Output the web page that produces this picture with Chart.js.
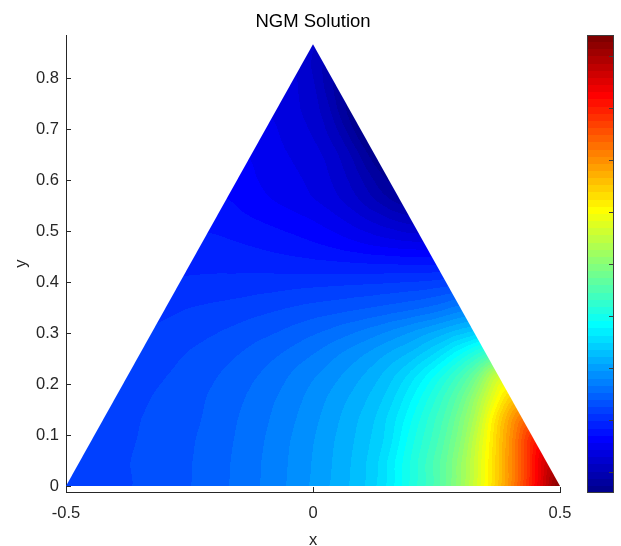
<!DOCTYPE html>
<html lang="en">
<head>
<meta charset="UTF-8">
<title>NGM Solution</title>
<script src="https://cdn.jsdelivr.net/npm/chart.js"></script>
<style>
  body { margin: 0; background: #fff; }
</style>
</head>
<body>
<canvas id="myChart" width="621" height="546"></canvas>

<script>
// equilateral triangle, split into nDiv x nDiv linear elements
const nDiv = 20;
const corners = [[-0.5, 0], [0.5, 0], [0, 0.866]];

// nodal solution, bottom row first; each row runs from the left edge to the right edge
const u = [
  [0.2219, 0.2228, 0.2237, 0.2254, 0.2316, 0.2378, 0.2466, 0.2562, 0.2677, 0.2809, 0.2958, 0.3126, 0.3310, 0.3610, 0.4076, 0.4472, 0.5114, 0.5986, 0.6998, 0.8168, 0.9400],
  [0.2219, 0.2228, 0.2246, 0.2290, 0.2351, 0.2413, 0.2510, 0.2615, 0.2738, 0.2870, 0.3029, 0.3205, 0.3434, 0.3856, 0.4296, 0.4780, 0.5528, 0.6496, 0.7552, 0.8784],
  [0.2210, 0.2228, 0.2254, 0.2307, 0.2369, 0.2457, 0.2545, 0.2659, 0.2791, 0.2932, 0.3099, 0.3275, 0.3522, 0.4006, 0.4410, 0.5000, 0.5950, 0.6998, 0.8168],
  [0.2202, 0.2228, 0.2272, 0.2325, 0.2386, 0.2483, 0.2580, 0.2694, 0.2826, 0.2976, 0.3152, 0.3346, 0.3680, 0.4120, 0.4560, 0.5264, 0.6408, 0.7376],
  [0.2184, 0.2228, 0.2281, 0.2342, 0.2413, 0.2501, 0.2606, 0.2721, 0.2853, 0.3011, 0.3170, 0.3381, 0.3750, 0.4182, 0.4692, 0.5528, 0.6496],
  [0.2175, 0.2219, 0.2272, 0.2342, 0.2413, 0.2501, 0.2598, 0.2730, 0.2844, 0.2994, 0.3161, 0.3398, 0.3742, 0.4164, 0.4692, 0.5704],
  [0.2158, 0.2202, 0.2263, 0.2325, 0.2386, 0.2466, 0.2554, 0.2659, 0.2791, 0.2923, 0.3082, 0.3240, 0.3504, 0.3900, 0.4340],
  [0.2122, 0.2158, 0.2210, 0.2263, 0.2325, 0.2378, 0.2457, 0.2536, 0.2633, 0.2738, 0.2870, 0.3020, 0.3187, 0.3346],
  [0.2087, 0.2122, 0.2149, 0.2175, 0.2219, 0.2263, 0.2307, 0.2342, 0.2386, 0.2439, 0.2501, 0.2589, 0.2756],
  [0.2008, 0.2026, 0.2043, 0.2061, 0.2078, 0.2105, 0.2122, 0.2140, 0.2158, 0.2184, 0.2210, 0.2272],
  [0.1938, 0.1938, 0.1929, 0.1920, 0.1902, 0.1885, 0.1876, 0.1867, 0.1858, 0.1850, 0.1850],
  [0.1876, 0.1858, 0.1823, 0.1779, 0.1735, 0.1674, 0.1594, 0.1515, 0.1462, 0.1436],
  [0.1797, 0.1744, 0.1691, 0.1638, 0.1568, 0.1462, 0.1330, 0.1198, 0.1084],
  [0.1709, 0.1621, 0.1542, 0.1462, 0.1374, 0.1216, 0.0996, 0.0776],
  [0.1630, 0.1533, 0.1462, 0.1392, 0.1234, 0.0996, 0.0688],
  [0.156, 0.146, 0.139, 0.128, 0.104, 0.063],
  [0.148, 0.139, 0.128, 0.104, 0.060],
  [0.141, 0.129, 0.111, 0.064],
  [0.134, 0.120, 0.078],
  [0.128, 0.095],
  [0.117]
];

const xTicks = [-0.5, 0, 0.5];
const yTicks = [0, 0.1, 0.2, 0.3, 0.4, 0.5, 0.6, 0.7, 0.8];
const cLim = [0.06, 0.94];
const cbarTicks = [0.1, 0.2, 0.3, 0.4, 0.5, 0.6, 0.7, 0.8, 0.9];
const nColors = 64;

const axisColor = '#262626';

// matlab jet(64), i = 1..64
function jet(i) {
  const ramp = q => (q >= 1 && q <= 47) ? (q <= 16 ? q / 16 : q <= 31 ? 1 : (48 - q) / 16) : 0;
  return [ramp(i - 24), ramp(i - 8), ramp(i + 8)].map(c => Math.round(c * 255));
}
const cmap = [];
for (let i = 1; i <= nColors; i++) cmap.push(jet(i));

function colorIndex(v) {
  const t = (v - cLim[0]) / (cLim[1] - cLim[0]);
  const i = Math.floor(t * nColors);
  return isFinite(i) ? Math.min(nColors - 1, Math.max(0, i)) : 0;
}

// node coordinates of the mesh
function nodeXY(k, j) {
  const [a, b, c] = corners;
  return [a[0] + (b[0] - a[0]) * j / nDiv + (c[0] - a[0]) * k / nDiv,
          a[1] + (b[1] - a[1]) * j / nDiv + (c[1] - a[1]) * k / nDiv];
}
const nodes = [];
u.forEach((row, k) => row.forEach((v, j) => {
  const [x, y] = nodeXY(k, j);
  nodes.push({x, y, v});
}));

// linear interpolation inside the element that holds (x, y)
function sample(x, y) {
  const [a, b, c] = corners;
  let s = (y - a[1]) / (c[1] - a[1]) * nDiv;
  let r = (x - a[0] - (c[0] - a[0]) * s / nDiv) / (b[0] - a[0]) * nDiv;
  s = Math.min(nDiv, Math.max(0, s));
  r = Math.min(nDiv - s, Math.max(0, r));
  const k = Math.min(nDiv - 1, Math.floor(s));
  let j = Math.floor(r);
  if (k + j > nDiv - 1) j = nDiv - 1 - k;
  const fs = s - k, fr = r - j;
  if (fs + fr <= 1 || k + j >= nDiv - 1) {
    return u[k][j] * (1 - fs - fr) + u[k][j + 1] * fr + u[k + 1][j] * fs;
  }
  return u[k + 1][j + 1] * (fs + fr - 1) + u[k][j + 1] * (1 - fs) + u[k + 1][j] * (1 - fr);
}

// running box average along rows or columns
function boxPass(src, w, h, rad, horizontal) {
  const out = new Float32Array(src.length);
  const n = horizontal ? w : h, lines = horizontal ? h : w;
  for (let l = 0; l < lines; l++) {
    const idx = i => horizontal ? l * w + i : i * w + l;
    for (let i = 0; i < n; i++) {
      let sum = 0, cnt = 0;
      for (let d = -rad; d <= rad; d++) {
        const q = Math.min(n - 1, Math.max(0, i + d));
        sum += src[idx(q)]; cnt++;
      }
      out[idx(i)] = sum / cnt;
    }
  }
  return out;
}

const contourPlugin = {
  id: 'contourFill',
  beforeDatasetsDraw(chart) {
    const {ctx, chartArea: area, scales} = chart;
    const left = Math.floor(area.left), top = Math.floor(area.top);
    const w = Math.ceil(area.right) - left, h = Math.ceil(area.bottom) - top;
    let field = new Float32Array(w * h);
    for (let py = 0; py < h; py++) {
      const yv = scales.y.getValueForPixel(top + py + 0.5);
      for (let px = 0; px < w; px++) {
        field[py * w + px] = sample(scales.x.getValueForPixel(left + px + 0.5), yv);
      }
    }
    // soften the element edges before banding
    for (let pass = 0; pass < 2; pass++) {
      field = boxPass(field, w, h, 6, true);
      field = boxPass(field, w, h, 6, false);
    }

    const off = document.createElement('canvas');
    off.width = w; off.height = h;
    const octx = off.getContext('2d');
    const img = octx.createImageData(w, h);
    for (let p = 0; p < w * h; p++) {
      const col = cmap[colorIndex(field[p])];
      img.data[p * 4] = col[0]; img.data[p * 4 + 1] = col[1]; img.data[p * 4 + 2] = col[2]; img.data[p * 4 + 3] = 255;
    }
    octx.putImageData(img, 0, 0);

    ctx.save();
    ctx.beginPath();
    corners.forEach(([x, y], i) => {
      const px = scales.x.getPixelForValue(x), py = scales.y.getPixelForValue(y);
      if (i === 0) ctx.moveTo(px, py); else ctx.lineTo(px, py);
    });
    ctx.closePath();
    ctx.clip();
    ctx.drawImage(off, left, top);
    ctx.restore();
  }
};

// inward tick marks plus the colour bar on the right
const decorPlugin = {
  id: 'decor',
  afterDraw(chart) {
    const {ctx, chartArea: area, scales} = chart;
    ctx.save();
    ctx.strokeStyle = axisColor;
    ctx.lineWidth = 1;
    ctx.beginPath();
    xTicks.forEach(v => {
      const px = Math.round(scales.x.getPixelForValue(v)) + 0.5;
      ctx.moveTo(px, area.bottom); ctx.lineTo(px, area.bottom - 5);
    });
    yTicks.forEach(v => {
      const py = Math.round(scales.y.getPixelForValue(v)) + 0.5;
      ctx.moveTo(area.left, py); ctx.lineTo(area.left + 5, py);
    });
    ctx.stroke();

    const cbLeft = Math.round(area.right) + 27, cbW = 27;
    const cbTop = Math.round(area.top), cbBottom = Math.round(area.bottom) + 1;
    const cbH = cbBottom - cbTop;
    for (let i = 0; i < nColors; i++) {
      const y0 = Math.round(cbBottom - (i + 1) * cbH / nColors);
      const y1 = Math.round(cbBottom - i * cbH / nColors);
      const col = cmap[i];
      ctx.fillStyle = `rgb(${col[0]},${col[1]},${col[2]})`;
      ctx.fillRect(cbLeft, y0, cbW, y1 - y0);
    }
    ctx.strokeStyle = '#3c3c3c';
    ctx.strokeRect(cbLeft + 0.5, cbTop + 0.5, cbW - 1, cbH - 1);
    ctx.beginPath();
    cbarTicks.forEach(v => {
      const py = Math.round(cbBottom - (v - cLim[0]) / (cLim[1] - cLim[0]) * cbH) + 0.5;
      ctx.moveTo(cbLeft + cbW - 1, py); ctx.lineTo(cbLeft + cbW - 5, py);
    });
    ctx.stroke();
    ctx.restore();
  }
};

Chart.defaults.font.family = '"Liberation Sans", Arial, Helvetica, sans-serif';
Chart.defaults.color = axisColor;

const chart = new Chart(document.getElementById('myChart'), {
  type: 'scatter',
  data: {
    datasets: [{
      label: 'u',
      data: nodes,
      pointRadius: 0,
      pointHoverRadius: 0
    }]
  },
  options: {
    responsive: false,
    animation: false,
    events: [],
    layout: { padding: { left: 0, right: 61, top: 0, bottom: 0 } },
    plugins: {
      legend: { display: false },
      tooltip: { enabled: false },
      title: {
        display: true,
        fullSize: false,
        text: 'NGM Solution',
        color: '#000',
        font: { size: 18.5, weight: 'normal' },
        padding: { top: 10.4, bottom: 2.4 }
      }
    },
    scales: {
      x: {
        type: 'linear',
        min: -0.5,
        max: 0.5,
        afterBuildTicks: s => { s.ticks = xTicks.map(v => ({ value: v })); },
        afterFit: s => { s.height = 54; },
        grid: { display: false, drawTicks: false },
        border: { display: true, color: axisColor },
        ticks: { padding: 12, font: { size: 16.5 }, maxRotation: 0, callback: v => String(v) },
        title: { display: true, text: 'x', font: { size: 16.5, lineHeight: 1 }, padding: { top: 0, bottom: -3 } }
      },
      y: {
        type: 'linear',
        min: -0.0118,
        max: 0.8843,
        afterBuildTicks: s => { s.ticks = yTicks.map(v => ({ value: v })); },
        afterFit: s => { s.width = 66; },
        grid: { display: false, drawTicks: false },
        border: { display: true, color: axisColor },
        ticks: { padding: 7, font: { size: 16.5 }, callback: v => String(v) },
        title: { display: true, text: 'y', font: { size: 16.5, lineHeight: 1 }, padding: { top: 13 } }
      }
    }
  },
  plugins: [contourPlugin, decorPlugin]
});
</script>
</body>
</html>
